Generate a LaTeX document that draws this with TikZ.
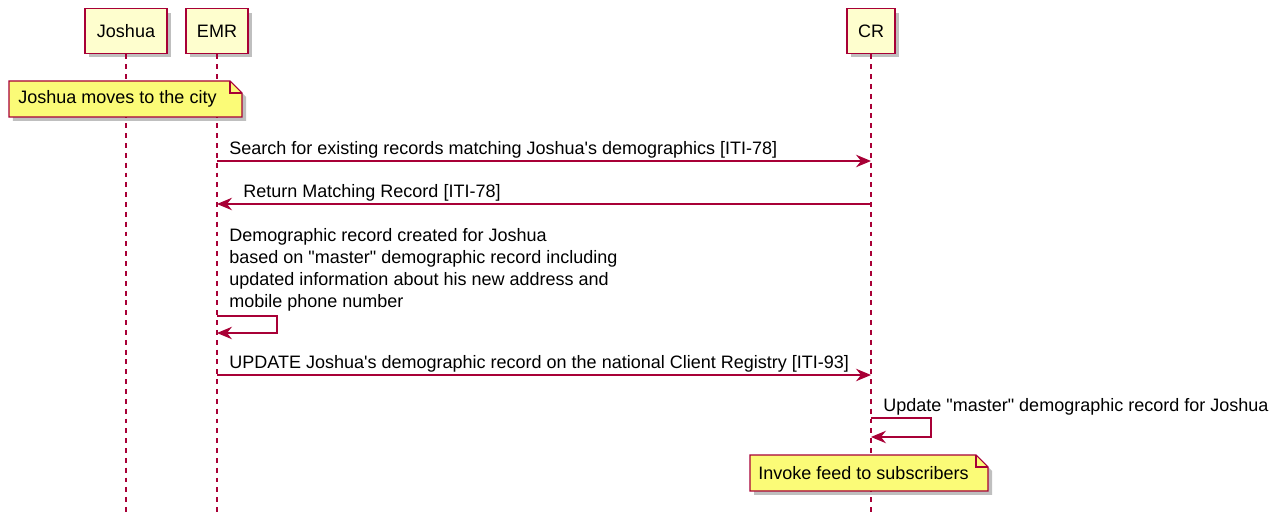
\documentclass[tikz,border=0pt]{standalone}
\usepackage{fontspec}
\setmainfont{Liberation Sans}[Ligatures=TeXOff]
\usetikzlibrary{arrows.meta,shadows}
\definecolor{umlred}{HTML}{A80036}
\definecolor{umlbox}{HTML}{FEFECE}
\definecolor{umlnote}{HTML}{FBFB77}

\begin{document}
\begin{tikzpicture}[x=0.02cm,y=-0.02cm,
    font=\fontsize{10.25}{12.6}\selectfont,
    shade/.style={drop shadow={shadow xshift=0.08cm,shadow yshift=-0.08cm,opacity=0.25,fill=black}},
    actor/.style={draw=umlred,fill=umlbox,line width=1.1pt,minimum height=0.9cm,inner sep=0pt,shade},
    life/.style={draw=umlred,line width=0.6pt,dash pattern=on 2.8pt off 2.8pt},
    msg/.style={draw=umlred,line width=0.7pt,-{Stealth[length=0.3cm,width=0.25cm,inset=0.1cm]}},
    lbl/.style={anchor=base west,inner sep=0pt},
    notebox/.style={draw=umlred,fill=umlnote,line width=0.6pt,shade}]
\useasboundingbox (0,0) rectangle (1279,513);

% participants
\node[actor,minimum width=1.64cm] (J) at (126,31) {Joshua};
\node[actor,minimum width=1.24cm] (E) at (217,31) {EMR};
\node[actor,minimum width=0.96cm] (C) at (871,31) {CR};

% lifelines
\coordinate (Jend) at (126,513);
\coordinate (Eend) at (217,513);
\coordinate (Cend) at (871,513);
\draw[life] (J) -- (Jend);
\draw[life] (E) -- (Eend);
\draw[life] (C) -- (Cend);

% note over Joshua
\filldraw[notebox] (9,81) -- (230,81) -- (242,93) -- (242,117) -- (9,117) -- cycle;
\draw[umlred,line width=0.6pt] (230,81) |- (242,93);
\node[anchor=west,inner sep=0pt] (n1) at (18,99) {Joshua moves to the city};

% search
\coordinate (e1) at (217,161);
\coordinate (c1) at (871,161);
\draw[msg] (e1) -- (c1);
\node[lbl] (m1) at (229,154.5) {Search for existing records matching Joshua's demographics [ITI-78]};

% return
\coordinate (c2) at (871,204);
\coordinate (e2) at (217,204);
\draw[msg] (c2) -- (e2);
\node[lbl] (m2) at (243,197.5) {Return Matching Record [ITI-78]};

% local record
\node[anchor=north west,inner sep=0pt,align=left] (m3) at (229,228) {Demographic record created for Joshua\\based on "master" demographic record including\\updated information about his new address and\\mobile phone number};
\coordinate (e3) at (217,316);
\coordinate (e4) at (217,333);
\draw[msg] (e3) -- ++(60,0) -- ++(0,17) -- (e4);

% update
\coordinate (e5) at (217,375);
\coordinate (c5) at (871,375);
\draw[msg] (e5) -- (c5);
\node[lbl] (m4) at (229,368.5) {UPDATE Joshua's demographic record on the national Client Registry [ITI-93]};

% update master
\node[lbl] (m5) at (883,411.5) {Update "master" demographic record for Joshua};
\coordinate (c6) at (871,418);
\coordinate (c7) at (871,437);
\draw[msg] (c6) -- ++(60,0) -- ++(0,19) -- (c7);

% note over CR
\filldraw[notebox] (750,455) -- (976,455) -- (988,467) -- (988,491) -- (750,491) -- cycle;
\draw[umlred,line width=0.6pt] (976,455) |- (988,467);
\node[anchor=west,inner sep=0pt] (n2) at (758,473) {Invoke feed to subscribers};
\end{tikzpicture}
\end{document}
